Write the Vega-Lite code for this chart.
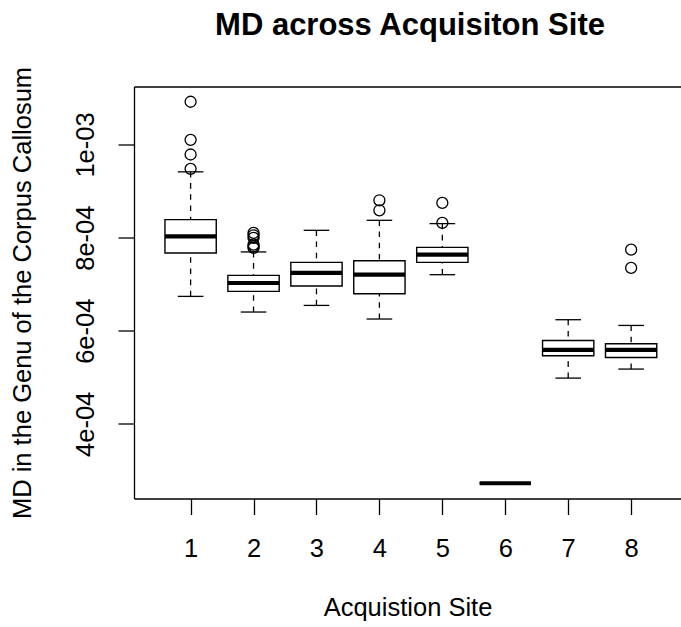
{
  "$schema": "https://vega.github.io/schema/vega-lite/v6.json",
  "width": 547,
  "height": 412,
  "autosize": {"type": "none"},
  "padding": {"left": 134, "top": 86.5, "right": 0, "bottom": 128.5},
  "background": "white",
  "title": {
    "text": "MD across Acquisiton Site",
    "font": "Liberation Sans",
    "fontSize": 31,
    "fontWeight": "bold",
    "color": "black",
    "anchor": "middle",
    "frame": "group",
    "baseline": "alphabetic",
    "offset": 0,
    "dx": 2.5
  },
  "config": {
    "view": {"stroke": null},
    "axis": {
      "grid": false,
      "domainColor": "black",
      "domainWidth": 1.3,
      "tickColor": "black",
      "tickWidth": 1.3,
      "tickSize": 16,
      "labelFont": "Liberation Sans",
      "labelFontSize": 25.5,
      "labelColor": "black",
      "titleFont": "Liberation Sans",
      "titleFontSize": 25.5,
      "titleFontWeight": "normal",
      "titleColor": "black",
      "labelOverlap": false,
      "labelFlush": false
    }
  },
  "datasets": {
    "stats": [
      {"site": 1, "lower": 0.0006738, "q1": 0.0007671, "median": 0.0008028, "q3": 0.0008387, "upper": 0.0009413},
      {"site": 2, "lower": 0.0006402, "q1": 0.0006845, "median": 0.0007026, "q3": 0.0007189, "upper": 0.0007693},
      {"site": 3, "lower": 0.0006544, "q1": 0.0006961, "median": 0.0007241, "q3": 0.0007469, "upper": 0.0008157},
      {"site": 4, "lower": 0.0006252, "q1": 0.0006796, "median": 0.0007204, "q3": 0.0007505, "upper": 0.0008372},
      {"site": 5, "lower": 0.0007204, "q1": 0.0007469, "median": 0.0007634, "q3": 0.0007791, "upper": 0.0008301},
      {"site": 6, "lower": 0.0002725, "q1": 0.0002725, "median": 0.0002725, "q3": 0.0002725, "upper": 0.0002725},
      {"site": 7, "lower": 0.0004983, "q1": 0.0005463, "median": 0.0005591, "q3": 0.0005791, "upper": 0.0006237},
      {"site": 8, "lower": 0.0005177, "q1": 0.0005426, "median": 0.0005591, "q3": 0.0005721, "upper": 0.0006114}
    ],
    "outliers": [
      {"site": 1, "value": 0.0010918},
      {"site": 1, "value": 0.0010101},
      {"site": 1, "value": 0.0009785},
      {"site": 1, "value": 0.0009477},
      {"site": 2, "value": 0.0008101},
      {"site": 2, "value": 0.0008050},
      {"site": 2, "value": 0.0007994},
      {"site": 2, "value": 0.0007850},
      {"site": 2, "value": 0.0007815},
      {"site": 2, "value": 0.0007779},
      {"site": 4, "value": 0.0008802},
      {"site": 4, "value": 0.0008587},
      {"site": 5, "value": 0.0008746},
      {"site": 5, "value": 0.0008316},
      {"site": 8, "value": 0.0007742},
      {"site": 8, "value": 0.0007349}
    ]
  },
  "layer": [
    {
      "data": {"name": "stats"},
      "mark": {"type": "rule", "color": "black", "strokeWidth": 1.3, "strokeDash": [5.6, 5.6]},
      "encoding": {
        "x": {
          "field": "site", "type": "quantitative",
          "scale": {"domain": [0.18, 8.713], "nice": false, "zero": false},
          "axis": {
            "orient": "bottom",
            "values": [1, 2, 3, 4, 5, 6, 7, 8],
            "format": "d",
            "labelBaseline": "alphabetic",
            "labelAlign": "center",
            "labelPadding": 41.5,
            "title": "Acquistion Site",
            "titleBaseline": "alphabetic",
            "titlePadding": 54
          }
        },
        "y": {
          "field": "upper", "type": "quantitative",
          "scale": {"domain": [0.0002397, 0.0011246], "nice": false, "zero": false},
          "axis": {
            "values": [0.0004, 0.0006, 0.0008, 0.001],
            "labelExpr": "replace(format(datum.value, '.0e'), 'e-', 'e-0')",
            "labelAngle": -90,
            "labelAlign": "center",
            "labelBaseline": "alphabetic",
            "labelPadding": 25,
            "title": "MD in the Genu of the Corpus Callosum",
            "titleBaseline": "alphabetic",
            "titlePadding": 42.5
          }
        },
        "y2": {"field": "q3"}
      }
    },
    {
      "data": {"name": "stats"},
      "mark": {"type": "rule", "color": "black", "strokeWidth": 1.3, "strokeDash": [5.6, 5.6]},
      "encoding": {
        "x": {"field": "site", "type": "quantitative", "axis": null},
        "y": {"field": "lower", "type": "quantitative"},
        "y2": {"field": "q1"}
      }
    },
    {
      "data": {"name": "stats"},
      "mark": {"type": "bar", "orient": "vertical", "size": 51.3, "fill": "white", "stroke": "black", "strokeWidth": 1.4},
      "encoding": {
        "x": {"field": "site", "type": "quantitative", "axis": null},
        "y": {"field": "q1", "type": "quantitative"},
        "y2": {"field": "q3"}
      }
    },
    {
      "data": {"name": "stats"},
      "mark": {"type": "tick", "orient": "horizontal", "size": 51.3, "thickness": 4.2, "color": "black", "opacity": 1},
      "encoding": {
        "x": {"field": "site", "type": "quantitative", "axis": null},
        "y": {"field": "median", "type": "quantitative"}
      }
    },
    {
      "data": {"name": "stats"},
      "mark": {"type": "tick", "orient": "horizontal", "size": 25.6, "thickness": 1.3, "color": "black", "opacity": 1},
      "encoding": {
        "x": {"field": "site", "type": "quantitative", "axis": null},
        "y": {"field": "upper", "type": "quantitative"}
      }
    },
    {
      "data": {"name": "stats"},
      "mark": {"type": "tick", "orient": "horizontal", "size": 25.6, "thickness": 1.3, "color": "black", "opacity": 1},
      "encoding": {
        "x": {"field": "site", "type": "quantitative", "axis": null},
        "y": {"field": "lower", "type": "quantitative"}
      }
    },
    {
      "data": {"name": "outliers"},
      "mark": {"type": "point", "shape": "circle", "filled": false, "size": 121, "stroke": "black", "strokeWidth": 1.3, "opacity": 1},
      "encoding": {
        "x": {
          "field": "site", "type": "quantitative",
          "axis": {"orient": "top", "labels": false, "ticks": false, "title": null, "domain": true, "values": []}
        },
        "y": {"field": "value", "type": "quantitative"}
      }
    }
  ],
  "resolve": {"axis": {"x": "independent"}}
}
